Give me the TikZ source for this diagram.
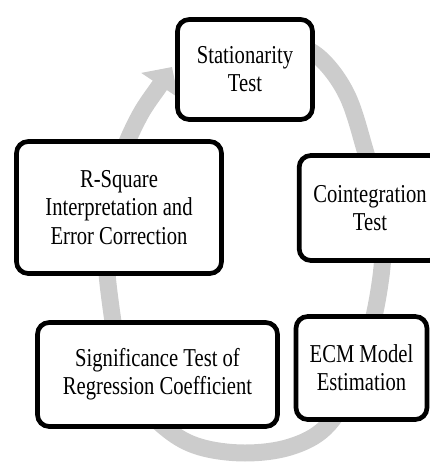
\documentclass[tikz,border=0pt]{standalone}
\usepackage{fontspec}
\setmainfont{Liberation Serif}[FakeStretch=0.8]
\usepackage{tikz}
\usetikzlibrary{arrows.meta}
\definecolor{CycleGray}{HTML}{CCCCCC}
\definecolor{BoxBlack}{HTML}{000000}

\begin{document}
\begin{tikzpicture}[scale=0.3, every node/.style={font=\fontsize{22}{24}\selectfont, align=center},
  procbox/.style={draw=BoxBlack, line width=4pt, rounded corners=10pt, fill=white, inner sep=0pt}]
  \clip (0,0) rectangle (43,-46.2);
  % cycle arrow behind the boxes
  \draw[CycleGray, line width=14.5pt, -{Triangle[length=0.66cm, width=1.3cm]}]
    plot[smooth, tension=0.6] coordinates {(24,-3.7) (29,-4.4) (32,-5.8) (34.7,-9.5) (36.5,-15)
      (37.8,-20) (38.3,-24.5) (37.9,-29) (36.8,-34) (35,-39) (32.5,-42.8) (29,-44.7) (24.5,-45.3)
      (20,-44.7) (16.8,-43) (14,-40) (12,-35.5) (11,-30) (10.6,-25) (11,-20) (12.2,-15.5)
      (14,-11.5) (16,-8.5) (17.2,-6.7)};
  \node[procbox, minimum width=4.05cm, minimum height=3.0cm] (stat) at (24.5,-6.95) {Stationarity \\ Test};
  \node[procbox, minimum width=4.25cm, minimum height=3.15cm] (coint) at (37.0,-20.8) {Cointegration \\ Test};
  \node[procbox, minimum width=3.93cm, minimum height=3.09cm] (ecm) at (36.15,-36.8) {ECM Model \\ Estimation};
  \node[procbox, minimum width=7.2cm, minimum height=3.12cm] (sig) at (15.75,-37.45) {Significance Test of \\ Regression Coefficient};
  \node[procbox, minimum width=6.15cm, minimum height=3.96cm] (rsq) at (11.9,-20.75) {R-Square \\ Interpretation and \\ Error Correction};
\end{tikzpicture}
\end{document}
